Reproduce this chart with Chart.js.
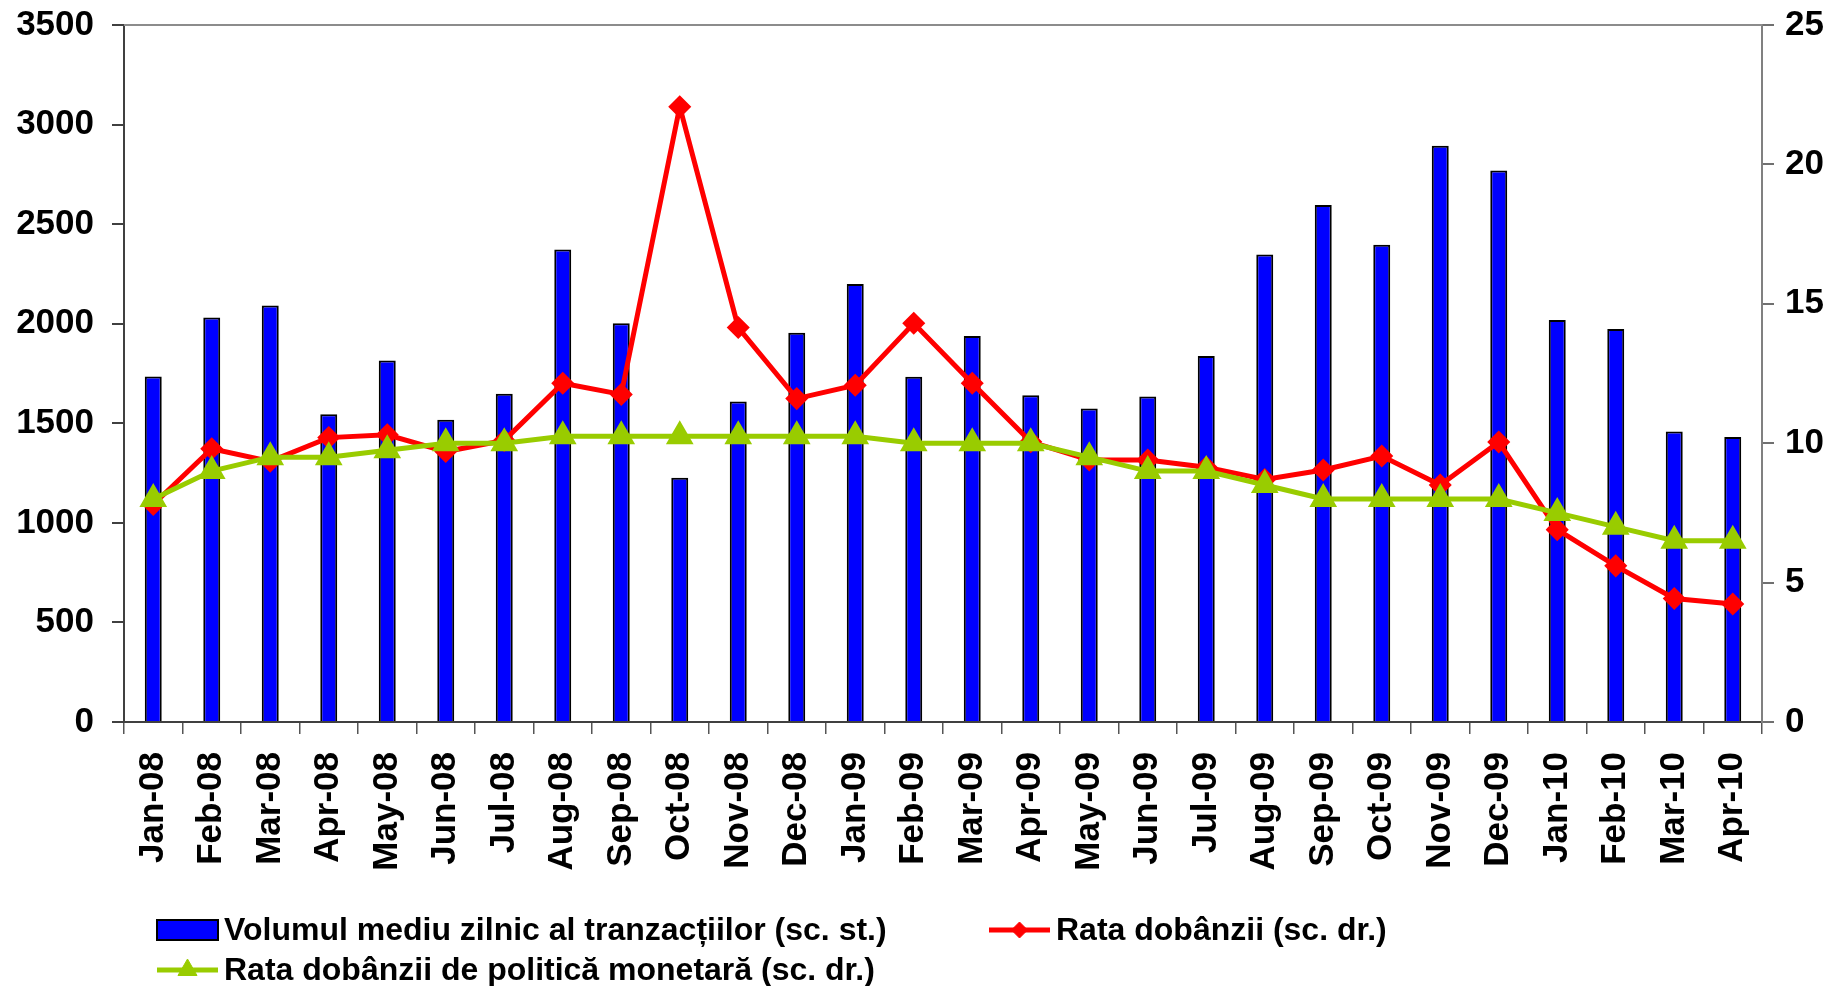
<!DOCTYPE html>
<html lang="ro">
<head>
<meta charset="utf-8">
<title>Volumul mediu zilnic al tranzacțiilor și ratele dobânzii</title>
<script src="https://cdn.jsdelivr.net/npm/chart.js@4.4.1/dist/chart.umd.min.js"></script>
<style>
    html, body { margin: 0; padding: 0; background: #fff; }
    #cadru { width: 1835px; height: 986px; }
</style>
</head>
<body>
<div id="cadru"><canvas id="grafic"></canvas></div>
<script>
// Luni (axa orizontală)
const luni = [
    'Jan-08', 'Feb-08', 'Mar-08', 'Apr-08', 'May-08', 'Jun-08', 'Jul-08', 'Aug-08', 'Sep-08', 'Oct-08', 'Nov-08', 'Dec-08',
    'Jan-09', 'Feb-09', 'Mar-09', 'Apr-09', 'May-09', 'Jun-09', 'Jul-09', 'Aug-09', 'Sep-09', 'Oct-09', 'Nov-09', 'Dec-09',
    'Jan-10', 'Feb-10', 'Mar-10', 'Apr-10'
];

// Volumul mediu zilnic al tranzacțiilor (scala stângă)
const volumMediu = [
    1735, 2031, 2091, 1545, 1815, 1518, 1648, 2373, 2002, 1227, 1609, 1955,
    2200, 1734, 1938, 1641, 1574, 1634, 1838, 2347, 2596, 2397, 2894, 2769,
    2019, 1973, 1459, 1431
];

// Rata dobânzii (scala dreaptă)
const rataDobanzii = [
    7.8, 9.8, 9.35, 10.2, 10.3, 9.7, 10.1, 12.15, 11.75, 22.07, 14.15, 11.6,
    12.08, 14.3, 12.15, 10.05, 9.4, 9.4, 9.14, 8.7, 9.04, 9.54, 8.5, 10.04,
    6.9, 5.6, 4.43, 4.23
];

// Rata dobânzii de politică monetară (scala dreaptă)
const rataPolitica = [
    8, 9, 9.5, 9.5, 9.75, 10, 10, 10.25, 10.25, 10.25, 10.25, 10.25,
    10.25, 10, 10, 10, 9.5, 9, 9, 8.5, 8, 8, 8, 8,
    7.5, 7, 6.5, 6.5
];

const eticheteSerii = [
    'Volumul mediu zilnic al tranzacțiilor (sc. st.)',
    'Rata dobânzii (sc. dr.)',
    'Rata dobânzii de politică monetară (sc. dr.)'
];

// Limitele celor două scale verticale
const scalaStanga = { min: 0, max: 3500, pas: 500 };
const scalaDreapta = { min: 0, max: 25, pas: 5 };

const FONT = '"Liberation Sans", Arial, sans-serif';
const ALBASTRU = '#0000ff';
const ROSU = '#ff0000';
const VERDE = '#99cc00';

// Linia de sus a cadrului
const chenarSus = {
    id: 'chenarSus',
    afterDraw(chart) {
        const { ctx, chartArea } = chart;
        ctx.save();
        ctx.strokeStyle = '#8c8c8c';
        ctx.lineWidth = 2;
        ctx.beginPath();
        ctx.moveTo(chartArea.left, chartArea.top);
        ctx.lineTo(chartArea.right, chartArea.top);
        ctx.stroke();
        ctx.restore();
    }
};

// Legenda de jos: două rânduri, cu simbol de bară sau linie cu marcaj
const legenda = {
    id: 'legenda',
    afterDraw(chart) {
        const { ctx, chartArea } = chart;
        const h = chart.height;
        const x0 = chartArea.left + 33;
        const elemente = [
            { x: x0, y: h - 56, ds: 0 },
            { x: chartArea.left + 865, y: h - 56, ds: 1 },
            { x: x0, y: h - 16, ds: 2 }
        ];
        ctx.save();
        elemente.forEach(el => {
            const ds = chart.data.datasets[el.ds];
            if (ds.type === 'bar') {
                ctx.fillStyle = ALBASTRU;
                ctx.fillRect(el.x, el.y - 10, 61, 20);
                ctx.strokeStyle = '#000';
                ctx.lineWidth = 2;
                ctx.strokeRect(el.x, el.y - 10, 61, 20);
            } else {
                ctx.strokeStyle = ds.borderColor;
                ctx.lineWidth = ds.borderWidth;
                ctx.beginPath();
                ctx.moveTo(el.x, el.y);
                ctx.lineTo(el.x + 61, el.y);
                ctx.stroke();
                ctx.fillStyle = ds.pointBackgroundColor;
                ctx.strokeStyle = ds.pointBorderColor;
                ctx.lineWidth = 1;
                Chart.helpers.drawPoint(ctx, {
                    pointStyle: ds.pointStyle,
                    radius: ds.pointRadius,
                    borderWidth: 1,
                    rotation: 0
                }, el.x + 30.5, el.y);
            }
            ctx.fillStyle = '#000';
            ctx.font = 'bold 32px ' + FONT;
            ctx.textBaseline = 'middle';
            ctx.textAlign = 'left';
            ctx.fillText(ds.label, el.x + 67, el.y + 1);
        });
        ctx.restore();
    }
};

// Axele verticale nu mai cer spațiu suplimentar deasupra zonei de desen
function fixeazaLatime(latime) {
    return s => {
        s.width = latime;
        s.paddingTop = 0;
        s.paddingBottom = 0;
    };
}

new Chart(document.getElementById('grafic'), {
    data: {
        labels: luni,
        datasets: [
            {
                type: 'bar',
                label: eticheteSerii[0],
                data: volumMediu,
                yAxisID: 'yStanga',
                backgroundColor: ALBASTRU,
                borderColor: '#000',
                borderWidth: 2,
                barPercentage: 0.29,
                categoryPercentage: 1,
                order: 3
            },
            {
                type: 'line',
                label: eticheteSerii[1],
                data: rataDobanzii,
                yAxisID: 'yDreapta',
                borderColor: ROSU,
                borderWidth: 5,
                pointStyle: 'rectRot',
                pointRadius: 8,
                pointBackgroundColor: ROSU,
                pointBorderColor: ROSU,
                tension: 0,
                order: 2
            },
            {
                type: 'line',
                label: eticheteSerii[2],
                data: rataPolitica,
                yAxisID: 'yDreapta',
                borderColor: VERDE,
                borderWidth: 5,
                pointStyle: 'triangle',
                pointRadius: 11,
                pointBackgroundColor: VERDE,
                pointBorderColor: VERDE,
                tension: 0,
                order: 1
            }
        ]
    },
    options: {
        responsive: true,
        maintainAspectRatio: false,
        animation: false,
        layout: { padding: { top: 25, bottom: 100, left: 0, right: 0 } },
        plugins: {
            legend: { display: false },
            tooltip: { enabled: false }
        },
        scales: {
            x: {
                grid: {
                    offset: true,
                    drawOnChartArea: false,
                    drawTicks: true,
                    tickLength: 12,
                    color: '#555',
                    lineWidth: 1.5
                },
                border: { color: '#404040', width: 2 },
                ticks: {
                    autoSkip: false,
                    maxRotation: 90,
                    minRotation: 90,
                    padding: 18,
                    color: '#000',
                    font: { family: FONT, size: 35, weight: 'bold' }
                },
                afterFit: s => { s.height = 164; }
            },
            yStanga: {
                position: 'left',
                min: scalaStanga.min,
                max: scalaStanga.max,
                grid: {
                    drawOnChartArea: false,
                    drawTicks: true,
                    tickLength: 12,
                    color: '#404040',
                    lineWidth: 2
                },
                border: { color: '#404040', width: 2 },
                ticks: {
                    stepSize: scalaStanga.pas,
                    padding: 18,
                    color: '#000',
                    font: { family: FONT, size: 35, weight: 'bold' },
                    callback: v => String(v)
                },
                afterFit: fixeazaLatime(124)
            },
            yDreapta: {
                position: 'right',
                min: scalaDreapta.min,
                max: scalaDreapta.max,
                grid: {
                    drawOnChartArea: false,
                    drawTicks: true,
                    tickLength: 12,
                    color: '#707070',
                    lineWidth: 2
                },
                border: { color: '#808080', width: 2 },
                ticks: {
                    stepSize: scalaDreapta.pas,
                    padding: 11,
                    color: '#000',
                    font: { family: FONT, size: 35, weight: 'bold' },
                    callback: v => String(v)
                },
                afterFit: fixeazaLatime(73)
            }
        }
    },
    plugins: [chenarSus, legenda]
});
</script>
</body>
</html>
